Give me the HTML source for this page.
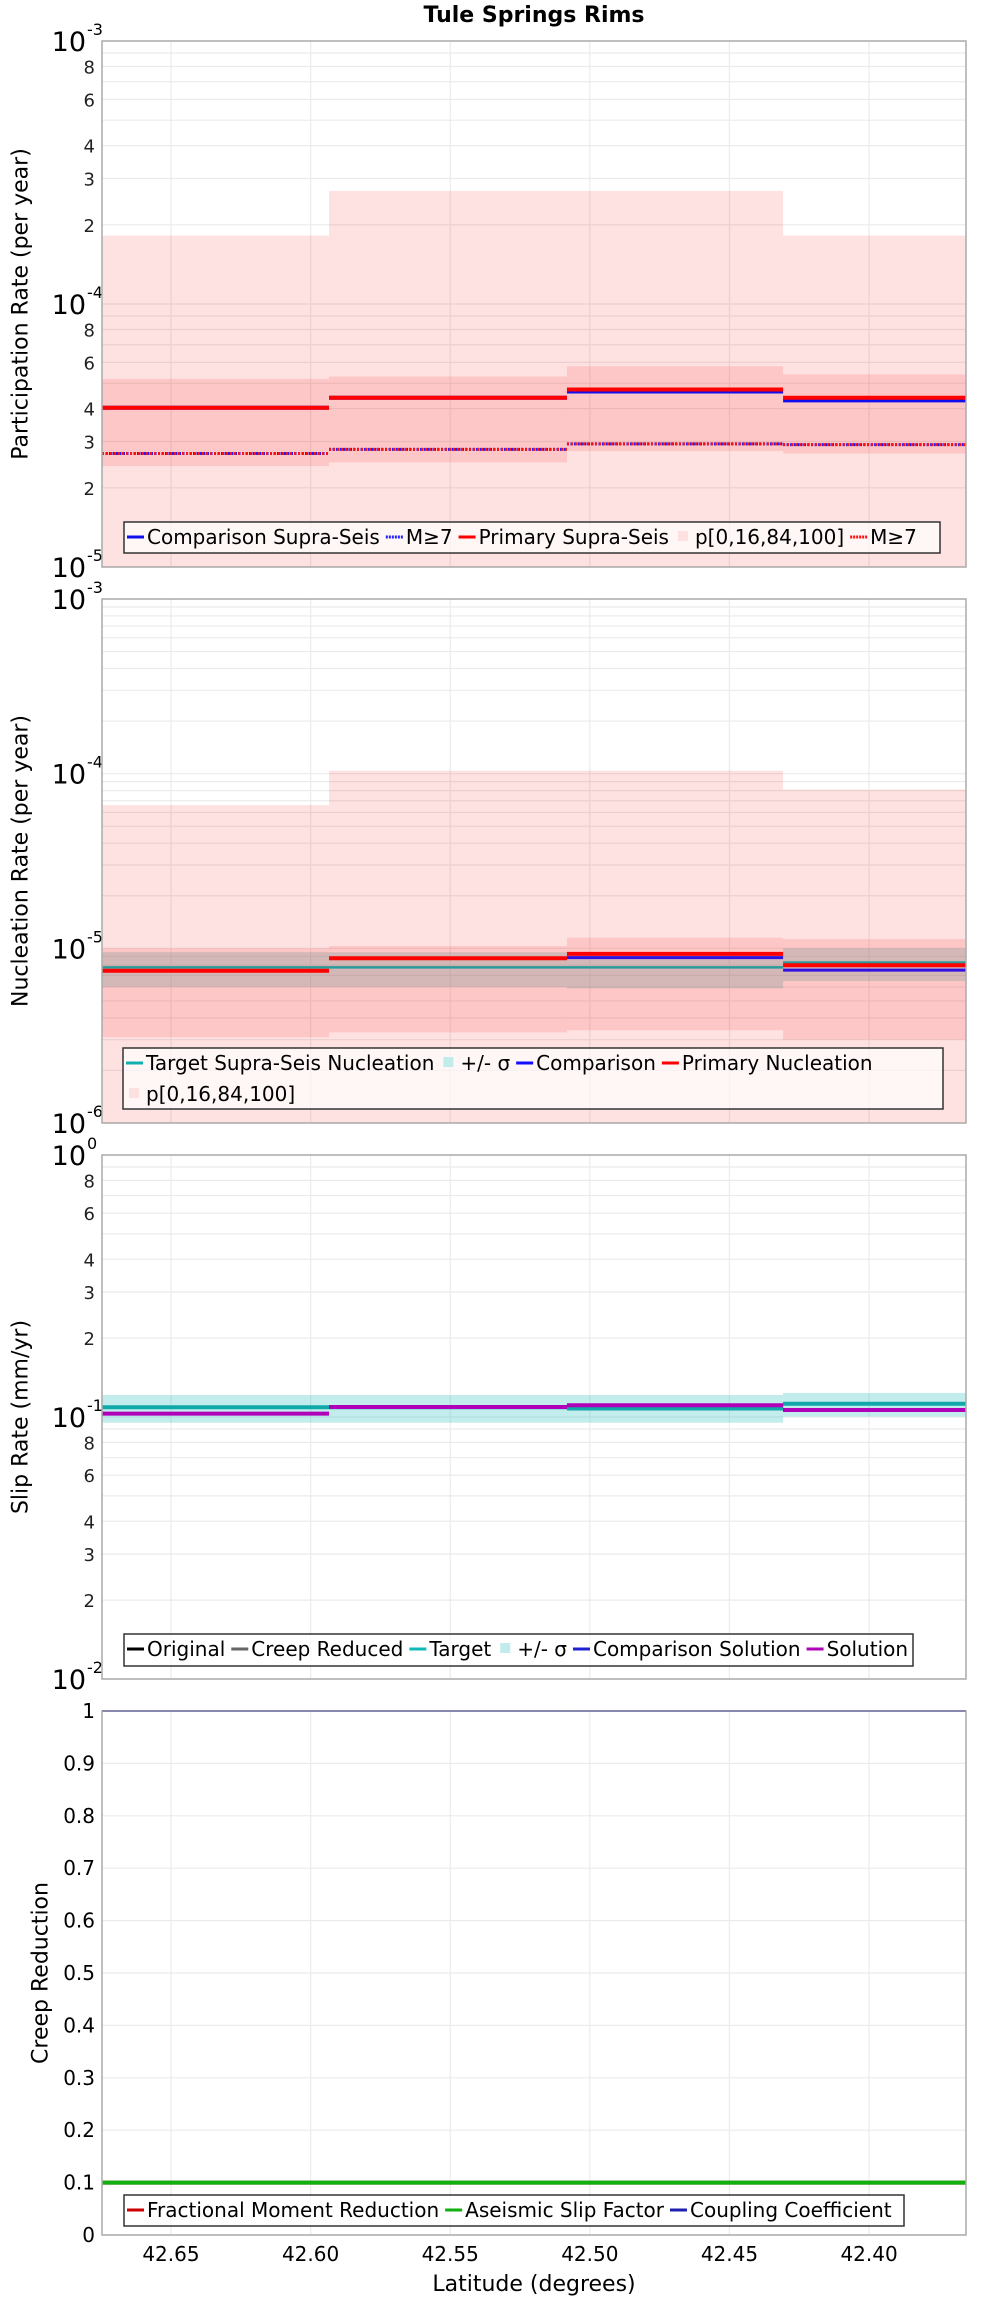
<!DOCTYPE html>
<html><head><meta charset="utf-8">
<style>
html,body{margin:0;padding:0;background:#fff;}
svg{display:block;font-family:"DejaVu Sans","Liberation Sans",sans-serif;}
</style></head>
<body>
<svg id="chart" width="1000" height="2300" viewBox="0 0 1000 2300" xmlns="http://www.w3.org/2000/svg">
<text x="534" y="22" text-anchor="middle" font-size="22" font-weight="bold">Tule Springs Rims</text>
<text x="534" y="2291" text-anchor="middle" font-size="22">Latitude (degrees)</text>
</svg>
<script>
// ---- shared data ----
const segEdges = [42.6747, 42.5934, 42.5082, 42.4308, 42.3653];
const xTicks = [42.65, 42.60, 42.55, 42.50, 42.45, 42.40];
const xTickLabels = ["42.65","42.60","42.55","42.50","42.45","42.40"];
// panel 1: participation
const partOuterHi = [1.82e-4, 2.69e-4, 2.69e-4, 1.82e-4];
const partOuterLo = [9e-6, 9e-6, 9e-6, 9e-6];
const partInnerHi = [5.19e-5, 5.3e-5, 5.8e-5, 5.4e-5];
const partInnerLo = [2.42e-5, 2.5e-5, 2.76e-5, 2.7e-5];
const partPrimary = [4.03e-5, 4.4e-5, 4.73e-5, 4.4e-5];
const partComparison = [4.03e-5, 4.4e-5, 4.65e-5, 4.3e-5];
const partPrimaryM7 = [2.7e-5, 2.8e-5, 2.94e-5, 2.92e-5];
const partComparisonM7 = [2.7e-5, 2.8e-5, 2.94e-5, 2.92e-5];
// panel 2: nucleation
const nuclOuterHi = [6.6e-5, 1.04e-4, 1.04e-4, 8.1e-5];
const nuclOuterLo = [9e-7, 9e-7, 9e-7, 9e-7];
const nuclInnerHi = [1.0e-5, 1.03e-5, 1.15e-5, 1.13e-5];
const nuclInnerLo = [3.1e-6, 3.3e-6, 3.4e-6, 3.0e-6];
const nuclSigmaHi = [9.5e-6, 9.5e-6, 9.5e-6, 1.0e-5];
const nuclSigmaLo = [6.0e-6, 6.0e-6, 5.9e-6, 6.5e-6];
const nuclTarget = [7.78e-6, 7.78e-6, 7.78e-6, 8.3e-6];
const nuclComparison = [7.44e-6, 8.77e-6, 8.84e-6, 7.5e-6];
const nuclPrimary = [7.44e-6, 8.77e-6, 9.3e-6, 8.0e-6];
// panel 3: slip rate
const slipSigmaHi = [0.1213, 0.1213, 0.1213, 0.1235];
const slipSigmaLo = [0.0951, 0.0951, 0.0951, 0.1004];
const slipOriginal = [0.1089, 0.1089, 0.1078, 0.1124];
const slipCreep = [0.1089, 0.1089, 0.1078, 0.1124];
const slipTarget = [0.1089, 0.1089, 0.1078, 0.1124];
const slipComparison = [0.1030, 0.1092, 0.1109, 0.1063];
const slipSolution = [0.1030, 0.1092, 0.1109, 0.1063];
// panel 4: creep
const creepFMR = [0.1, 0.1, 0.1, 0.1];
const creepASF = [0.1, 0.1, 0.1, 0.1];
const creepCoupling = [1, 1, 1, 1];
const creepTicks = [0,0.1,0.2,0.3,0.4,0.5,0.6,0.7,0.8,0.9,1];
const creepTickLabels = ["0","0.1","0.2","0.3","0.4","0.5","0.6","0.7","0.8","0.9","1"];

const NS = "http://www.w3.org/2000/svg";
const svg = document.getElementById("chart");
const PL = 102, PR = 966;
const xMin = 42.6747, xMax = 42.3653;
function xs(v){ return PL + (v - xMin) / (xMax - xMin) * (PR - PL); }
function mk(tag, attrs, parent){ const e = document.createElementNS(NS, tag); for (const k in attrs) e.setAttribute(k, attrs[k]); (parent||svg).appendChild(e); return e; }

const panels = [
 {name:"participation", top:41, bot:567, log:true, lo:-5, hi:-3, minorLabels:true, title:"Participation Rate (per year)", tx:20},
 {name:"nucleation", top:599, bot:1123, log:true, lo:-6, hi:-3, minorLabels:false, title:"Nucleation Rate (per year)", tx:20},
 {name:"slip-rate", top:1155, bot:1679, log:true, lo:-2, hi:0, minorLabels:true, title:"Slip Rate (mm/yr)", tx:20},
 {name:"creep", top:1711, bot:2235, log:false, lo:0, hi:1, title:"Creep Reduction", tx:40}
];
function yf(p){ return function(v){ const t = p.log ? (Math.log10(v) - p.lo)/(p.hi - p.lo) : (v - p.lo)/(p.hi - p.lo); return p.bot - t*(p.bot - p.top); }; }

panels.forEach(p => {
  const g = mk("g", {});
  
  
  p.g = g; p.y = yf(p);
  mk("rect", {x:PL, y:p.top, width:PR-PL, height:p.bot-p.top, fill:"#fff"}, g);
  const grid = mk("g", {stroke:"#ebebeb", "stroke-width":1.2}, g);
  
  
  xTicks.forEach(t => mk("line", {x1:xs(t), x2:xs(t), y1:p.top, y2:p.bot}, grid));
  const yt = mk("g", {"font-size":18, "text-anchor":"end"}, g);
  
  
  if (p.log) {
    for (let d = p.lo; d < p.hi; d++) {
      for (let m = 1; m <= 9; m++) {
        const v = m * Math.pow(10, d), y = p.y(v);
        mk("line", {x1:PL, x2:PR, y1:y, y2:y}, grid);
        if (p.minorLabels && [2,3,4,6,8].includes(m)) { const t = mk("text", {x:95, y:y+7, fill:"#222"}, yt); t.textContent = String(m); }
      }
    }
    for (let d = p.lo; d <= p.hi; d++) {
      const y = p.y(Math.pow(10, d));
      const t = mk("text", {x:86, y:y+10, "font-size":27}, yt); t.textContent = "10";
      const s = mk("text", {x:87, y:y-6, "font-size":16, "text-anchor":"start"}, yt); s.textContent = String(d);
    }
  } else {
    creepTicks.forEach((v, i) => {
      const y = p.y(v);
      mk("line", {x1:PL, x2:PR, y1:y, y2:y}, grid);
      const t = mk("text", {x:95, y:y+7, "font-size":20}, yt); t.textContent = creepTickLabels[i];
    });
  }
  const tt = mk("text", {x:p.tx, y:(p.top+p.bot)/2, "font-size":22, "text-anchor":"middle", transform:`rotate(-90 ${p.tx} ${(p.top+p.bot)/2})`, dy:"0.35em"}, g);
  tt.textContent = p.title;
  
  
});

function bands(p, hi, lo, fill, name){
  const g = mk("g", {}, p.g);
  
  
  for (let i = 0; i < hi.length; i++) {
    const y1 = Math.max(p.top, p.y(hi[i])), y2 = Math.min(p.bot, p.y(lo[i]));
    const r = mk("rect", {x:xs(segEdges[i]), y:y1, width:xs(segEdges[i+1])-xs(segEdges[i]), height:y2-y1, fill:fill}, g);
    
    
  }
}
function steps(p, vals, color, w, name, dash){
  const g = mk("g", {}, p.g);
  
  
  for (let i = 0; i < vals.length; i++) {
    const y = p.y(vals[i]);
    const a = {x1:xs(segEdges[i]), x2:xs(segEdges[i+1]), y1:y, y2:y, stroke:color, "stroke-width":w};
    if (dash) a["stroke-dasharray"] = dash;
    const l = mk("line", a, g);
    
    
  }
}
const P = panels;
bands(P[0], partOuterHi, partOuterLo, "rgba(250,40,40,0.14)", "participation-p0-100-band");
bands(P[0], partInnerHi, partInnerLo, "rgba(250,40,40,0.14)", "participation-p16-84-band");
steps(P[0], partComparisonM7, "#2020ff", 3, "comparison-m7-line", "2,1.5");
steps(P[0], partPrimaryM7, "#ff1010", 3, "primary-m7-line", "2,2");
steps(P[0], partComparison, "#1010ee", 4, "comparison-supra-seis-line");
steps(P[0], partPrimary, "#ff0000", 4, "primary-supra-seis-line");

bands(P[1], nuclOuterHi, nuclOuterLo, "rgba(250,40,40,0.14)", "nucleation-p0-100-band");
bands(P[1], nuclInnerHi, nuclInnerLo, "rgba(250,40,40,0.14)", "nucleation-p16-84-band");
bands(P[1], nuclSigmaHi, nuclSigmaLo, "rgba(120,150,150,0.3)", "target-sigma-band");
steps(P[1], nuclTarget, "#2a9a9a", 2.5, "target-supra-seis-nucleation-line");
steps(P[1], nuclComparison, "#3010e0", 3, "comparison-nucleation-line");
steps(P[1], nuclPrimary, "#ff0000", 4, "primary-nucleation-line");

bands(P[2], slipSigmaHi, slipSigmaLo, "rgba(40,190,190,0.28)", "slip-sigma-band");
steps(P[2], slipOriginal, "#000", 3, "original-slip-line");
steps(P[2], slipCreep, "#666", 3, "creep-reduced-slip-line");
steps(P[2], slipTarget, "#10a8a8", 4, "target-slip-line");
steps(P[2], slipComparison, "#3010d0", 3, "comparison-solution-line");
steps(P[2], slipSolution, "#b000b8", 4, "solution-slip-line");

steps(P[3], creepFMR, "#cc0000", 4, "fractional-moment-reduction-line");
steps(P[3], creepASF, "#10b010", 4, "aseismic-slip-factor-line");
steps(P[3], creepCoupling, "#2020b0", 2, "coupling-coefficient-line");

// frames
panels.forEach(p => { mk("rect", {x:PL, y:p.top, width:PR-PL, height:p.bot-p.top, fill:"none", stroke:"#aaa", "stroke-width":1.5}, p.g); });

// x tick labels
const xl = mk("g", {"font-size":20, "text-anchor":"middle"});


xTicks.forEach((t, i) => { const e = mk("text", {x:xs(t), y:2261}, xl); e.textContent = xTickLabels[i]; });

// legends
function legend(name, x, y, w, h, rows){
  const g = mk("g", {"font-size":20});
  
  
  mk("rect", {x:x, y:y, width:w, height:h, fill:"rgba(255,255,255,0.7)", stroke:"#333", "stroke-width":1.5}, g);
  rows.forEach((items, r) => {
    let cx = x + 3;
    const by = y + 22 + r*31;
    items.forEach(it => {
      const ig = mk("g", {}, g);
      
      
      if (it.box) mk("rect", {x:cx+3, y:by-13, width:10, height:10, fill:it.c}, ig);
      else { const a = {x1:cx, x2:cx+17, y1:by-7, y2:by-7, stroke:it.c, "stroke-width":3}; if (it.d) a["stroke-dasharray"]="2,1"; mk("line", a, ig); }
      const t = mk("text", {x:cx+20, y:by}, ig); t.textContent = it.t;
      cx += 20 + t.getComputedTextLength() + 6;
    });
  });
}
legend("participation-legend", 124, 522, 816, 31, [[
 {c:"#1010ee",t:"Comparison Supra-Seis"},{c:"#2020ff",t:"M≥7",d:1},{c:"#ff0000",t:"Primary Supra-Seis"},
 {c:"#fde0e0",t:"p[0,16,84,100]",box:1},{c:"#ff1010",t:"M≥7",d:1}]]);
legend("nucleation-legend", 123, 1048, 820, 61, [[
 {c:"#10b0b0",t:"Target Supra-Seis Nucleation"},{c:"#c2ebeb",t:"+/- σ",box:1},{c:"#1010ff",t:"Comparison"},{c:"#ff0000",t:"Primary Nucleation"}],
 [{c:"#fde0e0",t:"p[0,16,84,100]",box:1}]]);
legend("slip-rate-legend", 124, 1634, 789, 32, [[
 {c:"#000",t:"Original"},{c:"#666",t:"Creep Reduced"},{c:"#10b8b8",t:"Target"},{c:"#c2ebeb",t:"+/- σ",box:1},
 {c:"#2020d0",t:"Comparison Solution"},{c:"#b000b8",t:"Solution"}]]);
legend("creep-legend", 124, 2195, 780, 31, [[
 {c:"#cc0000",t:"Fractional Moment Reduction"},{c:"#10b010",t:"Aseismic Slip Factor"},{c:"#2020b0",t:"Coupling Coefficient"}]]);
</script>
</body></html>
